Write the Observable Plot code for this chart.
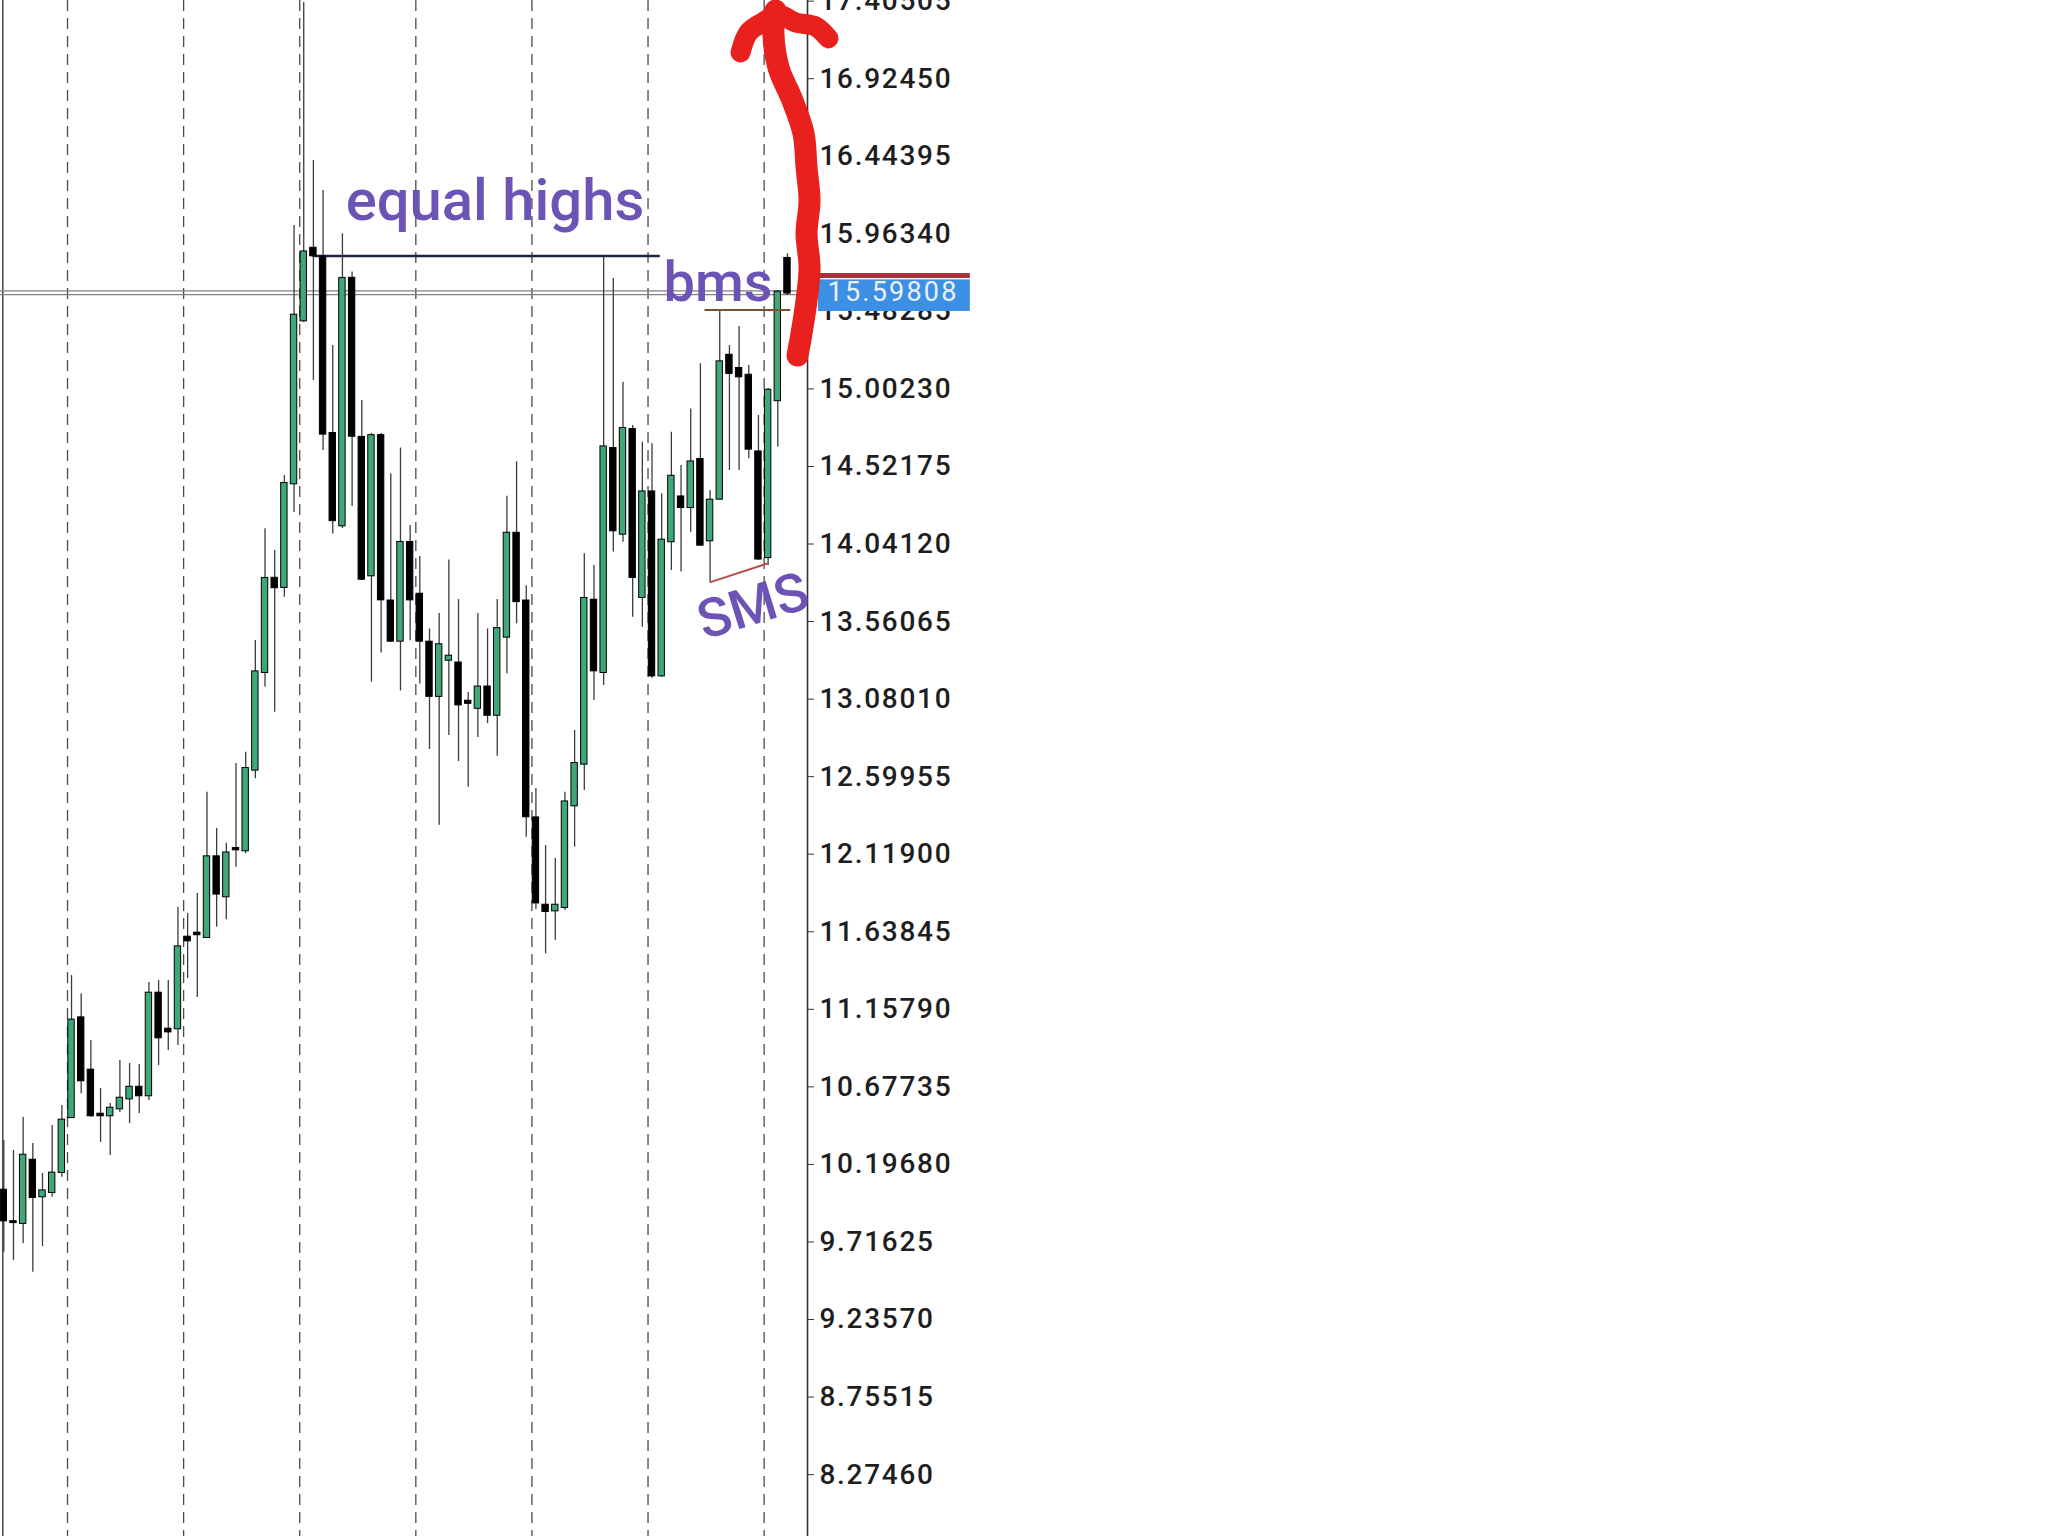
<!DOCTYPE html>
<html>
<head>
<meta charset="utf-8">
<script src="https://cdn.jsdelivr.net/npm/d3@7"></script>
<script src="https://cdn.jsdelivr.net/npm/@observablehq/plot@0.6"></script>
<style>
  html, body { margin: 0; padding: 0; background: #ffffff; }
  #chart svg { display: block; }
</style>
</head>
<body>
<div id="chart"></div>
<script>
// ---- Candle data (price), one entry per candle, left to right ----
const open = [10.035, 9.840, 9.833, 10.221, 9.998, 10.025, 10.149, 10.489, 11.103, 10.779,
  10.506, 10.500, 10.543, 10.605, 10.673, 10.624, 11.256, 11.033, 11.039, 11.603,
  11.628, 11.605, 12.101, 11.857, 12.153, 12.142, 12.642, 13.247, 13.827, 13.774,
  14.416, 15.426, 15.872, 15.818, 14.724, 14.156, 15.686, 14.700, 13.846, 14.711,
  13.686, 13.441, 14.049, 13.728, 13.431, 13.099, 13.323, 13.302, 13.065, 13.025,
  13.153, 12.982, 13.466, 14.106, 13.686, 12.342, 11.801, 11.770, 11.791, 12.421,
  12.679, 13.691, 13.247, 14.631, 14.104, 14.749, 13.712, 14.362, 13.226, 14.057,
  14.331, 14.269, 14.563, 14.063, 14.321, 15.209, 15.127, 15.085, 14.610, 13.959,
  14.931, 15.809];
const close = [9.849, 9.838, 10.252, 9.994, 10.031, 10.141, 10.469, 11.089, 10.717, 10.500,
  10.500, 10.543, 10.605, 10.673, 10.624, 11.256, 10.983, 11.020, 11.543, 11.584,
  11.622, 12.101, 11.874, 12.125, 12.148, 12.648, 13.247, 13.826, 13.772, 14.414,
  15.457, 15.849, 15.829, 14.724, 14.188, 15.685, 14.711, 13.825, 14.711, 13.697,
  13.441, 14.049, 13.697, 13.441, 13.099, 13.415, 13.344, 13.046, 13.056, 13.153,
  12.982, 13.515, 14.106, 13.686, 12.353, 11.819, 11.766, 11.801, 12.441, 12.679,
  13.702, 13.257, 14.641, 14.125, 14.755, 13.836, 14.362, 13.226, 14.063, 14.459,
  14.269, 14.548, 14.036, 14.311, 15.168, 15.100, 15.079, 14.631, 13.950, 14.992,
  15.600, 15.598];
const high = [10.345, 10.283, 10.489, 10.326, 10.141, 10.438, 10.562, 11.367, 11.254, 10.965,
  10.667, 10.574, 10.841, 10.822, 10.816, 11.324, 11.336, 11.336, 11.791, 11.752,
  11.876, 12.503, 12.278, 12.187, 12.681, 12.751, 13.443, 14.135, 14.001, 14.466,
  16.015, 17.397, 16.418, 16.232, 15.271, 15.963, 15.726, 14.931, 14.726, 14.726,
  14.476, 14.636, 14.156, 13.964, 13.515, 13.611, 13.942, 13.697, 13.121, 13.611,
  13.515, 13.697, 14.337, 14.551, 13.782, 12.526, 12.173, 12.092, 12.503, 12.886,
  13.981, 13.908, 15.817, 15.686, 15.044, 14.776, 14.672, 14.662, 14.352, 14.734,
  14.528, 14.878, 15.158, 14.373, 15.489, 15.271, 15.389, 15.147, 14.838, 15.005,
  15.612, 15.840];
const low = [9.653, 9.601, 9.705, 9.529, 9.688, 9.994, 10.118, 10.484, 10.634, 10.489,
  10.333, 10.252, 10.519, 10.450, 10.512, 10.593, 10.810, 10.903, 10.934, 11.349,
  11.231, 11.603, 11.667, 11.713, 12.039, 12.122, 12.586, 13.154, 12.999, 13.712,
  14.236, 15.414, 15.054, 14.621, 14.103, 14.137, 14.274, 13.815, 13.185, 13.366,
  13.431, 13.131, 13.441, 13.174, 12.768, 12.299, 12.854, 12.693, 12.534, 12.843,
  12.929, 12.726, 13.238, 13.547, 12.224, 11.777, 11.502, 11.584, 11.770, 12.163,
  12.514, 13.072, 13.164, 13.991, 14.052, 13.588, 13.526, 13.208, 13.216, 13.877,
  13.867, 14.114, 14.026, 13.805, 14.311, 14.497, 14.497, 14.569, 13.939, 13.908,
  14.641, 15.581];

// ---- Axis ticks ----
const yTicks = [8.27460, 8.75515, 9.23570, 9.71625, 10.19680, 10.67735, 11.15790, 11.63845,
  12.11900, 12.59955, 13.08010, 13.56065, 14.04120, 14.52175, 15.00230, 15.48285,
  15.96340, 16.44395, 16.92450, 17.40505];
const gridCandles = [7, 19, 31, 43, 55, 67, 79];   // period separators (candle index)

// ---- Prices / annotations (candle index, price) ----
const bidPrice = 15.59808;
const askPrice = 15.705;
const equalHighsLine = [[32, 15.826], [67.7, 15.826]];
const bmsLine = [[72.5, 15.491], [81.2, 15.491]];
const smsLine = [[73.04, 13.805], [78.9, 13.920]];
const labelTexts = ["equal highs", "bms", "SMS"];
const labelAnchors = [[50.77, 16.167], [73.82, 15.661], [77.45, 13.652]];
const arrowShaft = [[82.04, 15.209], [82.45, 15.346], [82.97, 15.550], [83.28, 15.755],
  [82.97, 15.965], [83.28, 16.170], [82.97, 16.374], [82.66, 16.585], [81.52, 16.789],
  [80.07, 16.994], [79.55, 17.205], [79.76, 17.347]];
const arrowHead = [[76.15, 17.087], [76.97, 17.211], [78.42, 17.273], [80.07, 17.322],
  [81.83, 17.273], [83.90, 17.248], [85.24, 17.174]];
const priceBox = {i1: 84.2, i2: 99.9, p1: 15.482, p2: 15.678};

const candles = open.map((o, k) => ({i: k, open: o, high: high[k], low: low[k], close: close[k]}));

const xDomain = [-0.341, 83.07];
const green = "#40a878";
const purple = "#6b54b5";
const fmt = d3.format(".5f");

const plot = Plot.plot({
  width: 2048,
  height: 1536,
  marginLeft: 0,
  marginRight: 1241,
  marginTop: 0,
  marginBottom: 0,
  style: {fontFamily: "Roboto", background: "#ffffff", overflow: "visible"},
  x: {domain: xDomain, axis: null},
  y: {domain: [7.8912, 17.4091]},
  marks: [
    // period separators
    Plot.ruleX(gridCandles, {x: d => d, dx: -4, stroke: "#4a4a4a", strokeWidth: 1.3, strokeDasharray: "11,7"}),
    // left border
    Plot.ruleX([xDomain[0]], {dx: 2.3, stroke: "#444", strokeWidth: 1.5}),
    // bid line (double gray)
    Plot.ruleY([bidPrice], {dy: -1.8, stroke: "#808080", strokeWidth: 1.2}),
    Plot.ruleY([bidPrice], {dy: 1.8, stroke: "#808080", strokeWidth: 1.2}),
    // equal highs line
    Plot.line(equalHighsLine, {x: d => d[0], y: d => d[1], stroke: "#1e2444", strokeWidth: 2.5}),
    // wicks
    Plot.ruleX(candles, {x: "i", y1: "low", y2: "high", stroke: "#3c3c3c", strokeWidth: 1.3}),
    // bodies
    Plot.rect(candles, {
      x1: d => d.i - 0.33, x2: d => d.i + 0.33, y1: "open", y2: "close",
      insetTop: -0.8, insetBottom: -0.8,
      fill: d => d.close >= d.open ? green : "#000000",
      stroke: "#000000", strokeWidth: 1
    }),
    // bms & SMS lines
    Plot.line(bmsLine, {x: d => d[0], y: d => d[1], stroke: "#7a5230", strokeWidth: 2}),
    Plot.line(smsLine, {x: d => d[0], y: d => d[1], stroke: "#b55048", strokeWidth: 2}),
    // right axis line
    Plot.ruleX([xDomain[1]], {stroke: "#333", strokeWidth: 1.6}),
    Plot.axisY(yTicks, {anchor: "right", tickSize: 6, tickPadding: 6, fontSize: 28, fontWeight: 500,
      tickFormat: fmt, stroke: "#333", fill: "#1e1e1e"}),
    // ask line + price box
    Plot.ruleY([askPrice], {x1: priceBox.i1, x2: priceBox.i2, stroke: "#a8323e", strokeWidth: 5}),
    Plot.rect([priceBox], {x1: "i1", x2: "i2", y1: "p1", y2: "p2", fill: "#3c8fe3"}),
    Plot.text([bidPrice], {x: priceBox.i1 + 0.95, y: d => d, text: d => fmt(d), textAnchor: "start",
      fontSize: 27, fill: "#e9f2fc", fontFamily: "Roboto"}),
    // annotations
    Plot.text([0], {x: labelAnchors[0][0], y: labelAnchors[0][1], text: () => labelTexts[0],
      fontSize: 58, fontWeight: 500, fill: purple, fontFamily: "Roboto"}),
    Plot.text([1], {x: labelAnchors[1][0], y: labelAnchors[1][1], text: () => labelTexts[1],
      fontSize: 56, fontWeight: 500, fill: purple, fontFamily: "Roboto"}),
    Plot.text([2], {x: labelAnchors[2][0], y: labelAnchors[2][1], text: () => labelTexts[2],
      fontSize: 54, fontWeight: 500, fill: purple, fontFamily: "Roboto", rotate: -17}),
    // red hand-drawn arrow
    Plot.line(arrowShaft, {x: d => d[0], y: d => d[1], stroke: "#e8201e", strokeWidth: 22,
      curve: "catmull-rom", strokeLinecap: "round", strokeLinejoin: "round"}),
    Plot.line(arrowHead, {x: d => d[0], y: d => d[1], stroke: "#e8201e", strokeWidth: 20,
      curve: "catmull-rom", strokeLinecap: "round", strokeLinejoin: "round"})
  ]
});

document.getElementById("chart").appendChild(plot);
d3.select(plot).selectAll("g[aria-label='y-axis tick label'] text").style("letter-spacing", "1.7px");
d3.select(plot).selectAll("g[aria-label='text'] text").filter(function () {
  return this.textContent === fmt(bidPrice);
}).style("letter-spacing", "2.2px");
</script>
</body>
</html>
